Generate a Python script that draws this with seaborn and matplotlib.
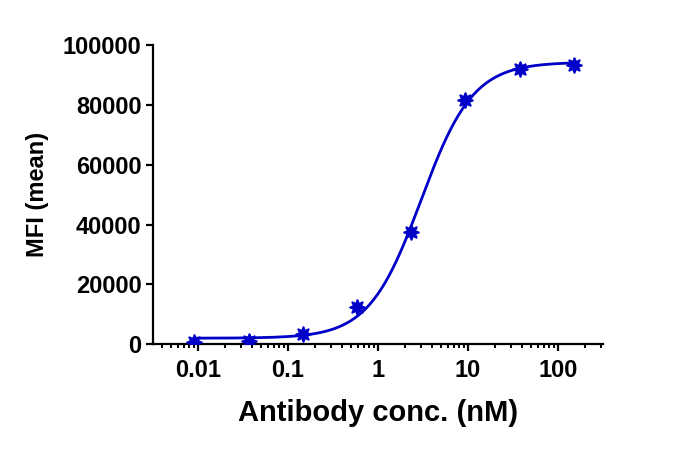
import numpy as np
import pandas as pd
import seaborn as sns
import matplotlib.pyplot as plt

# antibody titration, 4-fold dilution from 150 nM
conc = [0.00916, 0.0366, 0.146, 0.586, 2.34, 9.375, 37.5, 150]
mfi = [700, 1100, 3300, 12300, 37500, 81800, 92000, 93300]

blue = "#0000C8"


def fit_4pl(x, y):
    # grid over ec50/hill, bottom and top solved by least squares
    x = np.asarray(x)
    y = np.asarray(y, dtype=float)
    best = None
    for ec50 in np.logspace(-1, 1.5, 300):
        for hill in np.linspace(0.6, 3.0, 121):
            s = 1.0 / (1.0 + (ec50 / x) ** hill)
            A = np.column_stack([1 - s, s])
            coef, *_ = np.linalg.lstsq(A, y, rcond=None)
            err = np.sum((A @ coef - y) ** 2)
            if best is None or err < best[0]:
                best = (err, coef[0], coef[1], ec50, hill)
    return best[1:]


bottom, top, ec50, hill = fit_4pl(conc, mfi)
xs = np.logspace(np.log10(conc[0]), np.log10(conc[-1]), 300)
curve = pd.DataFrame({"conc": xs,
                      "mfi": bottom + (top - bottom) / (1 + (ec50 / xs) ** hill)})
pts = pd.DataFrame({"conc": conc, "mfi": mfi})

sns.set_style("ticks")
plt.rcParams["font.family"] = ["Liberation Sans", "DejaVu Sans"]
plt.rcParams["font.weight"] = "bold"
plt.rcParams["text.color"] = "black"
plt.rcParams["axes.labelcolor"] = "black"
plt.rcParams["xtick.color"] = "black"
plt.rcParams["ytick.color"] = "black"

fig = plt.figure(figsize=(6.82, 4.51), dpi=100)
ax = fig.add_axes([0.224, 0.237, 0.66, 0.663])

sns.lineplot(data=curve, x="conc", y="mfi", ax=ax, color=blue, linewidth=2.0)
sns.scatterplot(data=pts, x="conc", y="mfi", ax=ax, color=blue,
                marker=(8, 1, 0), s=110, edgecolor=blue, linewidth=1.5, zorder=3)

ax.set_xscale("log")
ax.set_xlim(10 ** -2.5, 10 ** 2.5)
ax.set_ylim(0, 100000)
ax.set_xticks([0.01, 0.1, 1, 10, 100])
ax.set_xticklabels(["0.01", "0.1", "1", "10", "100"])
ax.set_yticks(range(0, 100001, 20000))
ax.set_yticklabels([str(v) for v in range(0, 100001, 20000)])

for side in ["top", "right"]:
    ax.spines[side].set_visible(False)
for side in ["left", "bottom"]:
    ax.spines[side].set_linewidth(1.6)
    ax.spines[side].set_color("black")

ax.tick_params(axis="both", which="major", length=5, width=1.6,
               labelsize=17, color="black", labelcolor="black")
ax.tick_params(axis="x", which="major", pad=6)
ax.tick_params(axis="y", which="major", pad=3)
ax.tick_params(axis="x", which="minor", length=3, width=1.4, color="black")
for lab in ax.get_xticklabels() + ax.get_yticklabels():
    lab.set_fontweight("bold")

ax.set_xlabel("Antibody conc. (nM)", fontsize=21, fontweight="bold",
              labelpad=12, color="black")
ax.set_ylabel("MFI (mean)", fontsize=17, fontweight="bold",
              labelpad=10, color="black")

fig.savefig("out.png", dpi=100)
